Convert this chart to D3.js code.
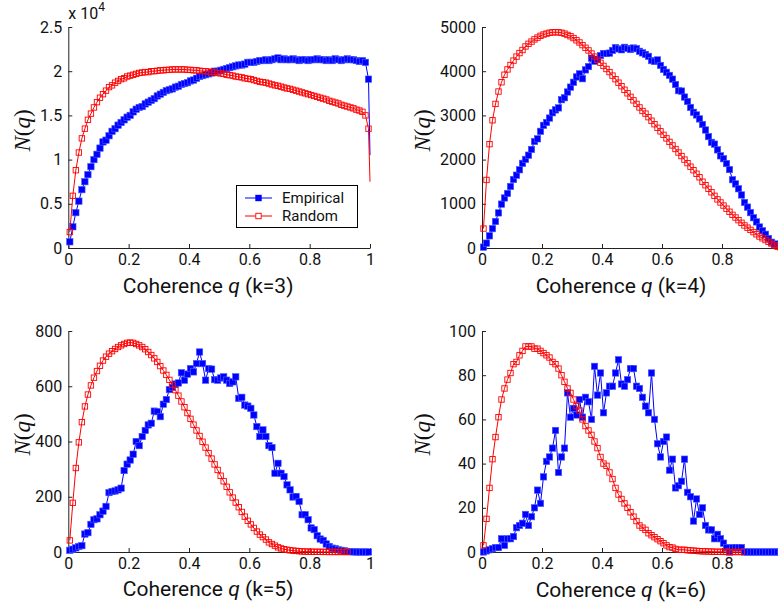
<!DOCTYPE html>
<html><head><meta charset="utf-8">
<script src="https://cdn.jsdelivr.net/npm/d3@7"></script>
<style>body{margin:0;background:#fff} svg{display:block}</style>
</head><body>
<svg id="c" width="778" height="607"></svg>
<script>
// bin centres of coherence q (100 bins of width 0.01)
const binCenters = d3.range(100).map(i => (i + 0.5) / 100);

// k = 3  (values in units of 10^4)
const k3Empirical = [
 0.07,0.24,0.40,0.53,0.66,0.75,0.83,0.92,1.00,1.06,
 1.13,1.20,1.22,1.27,1.32,1.35,1.39,1.42,1.45,1.48,
 1.50,1.54,1.57,1.59,1.60,1.63,1.65,1.67,1.69,1.72,
 1.74,1.76,1.78,1.79,1.80,1.82,1.83,1.85,1.86,1.87,
 1.89,1.90,1.92,1.94,1.95,1.96,1.97,1.98,2.00,2.00,
 2.01,2.02,2.03,2.04,2.05,2.06,2.07,2.07,2.08,2.10,
 2.10,2.10,2.11,2.12,2.12,2.13,2.12,2.13,2.14,2.15,
 2.13,2.14,2.13,2.13,2.14,2.13,2.12,2.13,2.13,2.12,
 2.13,2.13,2.14,2.13,2.13,2.12,2.13,2.12,2.14,2.13,
 2.12,2.13,2.14,2.13,2.13,2.12,2.11,2.12,2.10,1.91];
const k3EmpiricalAtOne = 1.05;
const k3Random = [
 0.18,0.59,0.88,1.08,1.24,1.35,1.45,1.52,1.59,1.65,
 1.70,1.74,1.78,1.82,1.84,1.87,1.89,1.91,1.92,1.94,
 1.95,1.96,1.97,1.98,1.985,1.99,1.99,2.00,2.00,2.005,
 2.01,2.01,2.015,2.015,2.02,2.02,2.02,2.02,2.02,2.015,
 2.015,2.01,2.01,2.005,2.00,2.00,1.995,1.99,1.985,1.98,
 1.975,1.97,1.96,1.955,1.95,1.94,1.935,1.93,1.92,1.915,
 1.91,1.90,1.89,1.88,1.875,1.87,1.86,1.85,1.84,1.835,
 1.825,1.815,1.805,1.80,1.79,1.78,1.77,1.76,1.75,1.74,
 1.73,1.72,1.71,1.70,1.69,1.68,1.665,1.655,1.645,1.635,
 1.62,1.61,1.60,1.59,1.58,1.565,1.555,1.54,1.50,1.35];
const k3RandomAtOne = 0.75;

// k = 4
const k4Empirical = [
 20,110,275,438,600,794,993,1132,1234,1392,
 1550,1648,1770,1915,2005,2100,2230,2410,2470,2640,
 2775,2840,2940,3060,3125,3170,3355,3400,3530,3640,
 3750,3870,3940,3830,4030,4105,4295,4225,4270,4355,
 4400,4400,4410,4470,4535,4505,4485,4540,4515,4490,
 4525,4510,4450,4415,4380,4335,4240,4220,4255,4130,
 4040,3975,3905,3820,3700,3560,3550,3415,3315,3180,
 3070,3010,2920,2795,2670,2520,2390,2350,2220,2085,
 2020,1910,1775,1545,1450,1340,1200,1030,925,800,
 685,590,475,390,310,215,130,80,90,60];
const k4Random = [
 440,1540,2350,2890,3260,3540,3750,3920,4040,4140,
 4240,4330,4410,4480,4560,4620,4670,4720,4760,4800,
 4830,4850,4870,4880,4880,4880,4870,4850,4820,4790,
 4750,4700,4650,4590,4530,4470,4400,4330,4260,4190,
 4120,4050,3980,3900,3820,3740,3660,3580,3500,3420,
 3340,3260,3180,3100,3040,2960,2880,2800,2720,2640,
 2560,2480,2400,2320,2240,2160,2080,2000,1920,1840,
 1760,1680,1600,1500,1420,1340,1260,1180,1100,1030,
 960,890,820,750,690,630,570,510,460,410,
 360,310,260,220,180,140,100,60,30,10];

// k = 5
const k5Empirical = [
 6,10,15,20,23,65,70,100,117,120,
 135,148,165,215,219,221,225,231,295,318,
 333,354,400,385,418,440,460,466,510,508,
 490,535,552,588,596,608,612,649,622,644,
 664,652,682,724,682,622,664,662,624,622,
 630,634,622,610,616,634,556,560,532,528,
 520,496,454,418,442,418,385,378,285,321,
 285,273,243,225,199,201,183,135,135,117,
 87,81,59,47,42,29,20,14,12,8,
 6,4,2,1,0.5,0,0,0,0,0];
const k5Random = [
 42,178,304,397,470,527,570,603,631,655,
 674,693,707,718,727,735,742,748,753,757,
 758,757,753,748,742,734,724,713,701,688,
 673,657,641,623,605,586,566,545,524,503,
 482,461,440,420,399,378,358,338,317,297,
 276,256,236,216,197,179,162,145,128,113,
 100,87,74,63,54,45,35,29,23,17,
 13,10,8,6,5,4,3,2,1.5,1.2,
 1,0.8,0.6,0.5,0.4,0.3,0.2,0.2,0.1,0.1,
 0.1,0,0];

// k = 6
const k6Empirical = [
 0,0.5,1,1.5,2,2,6,3,6,6,
 7,11,12,13,17,12,16,20,28,22,
 34,41,43,47,55,36,43,47,72,61,
 65,62,69,61,70,68,60,84,71,81,
 63,72,75,75,81,87,76,75,78,83,
 83,75,74,70,66,63,81,60,49,43,
 50,52,37,42,29,30,32,42,27,25,
 14,24,17,20,12,10,10,6,8,6,
 4,2,0,2,2,2,2,0,0,0,
 0,0,0,0,0,0,0,0,0,0];
const k6Random = [
 3,15,29,42,52,61,69,74,78,81,
 85,86,89,91,93,93,93,92,92,91,
 90,89,88,86,85,83,80,77,74,72,
 69,66,64,60,57,55,53,50,47,43,
 40,39,36,33,29,26,24,22,20,18,
 16,14,12,11,10,8.5,7.6,6.7,5.8,4.9,
 4,3,2.2,2,1.4,1,1,1,0.8,0.7,
 0.6,0.5,0.4,0.3,0.3,0.2,0.2,0.1,0.1,0.1,
 0.1,0,0,0,0,0,0];

const xTickFull = [0, 0.2, 0.4, 0.6, 0.8, 1];
const xTickCropped = [0, 0.2, 0.4, 0.6, 0.8];
const seriesNames = ["Empirical", "Random"];

const panels = [
  {k:3, emp:k3Empirical, rnd:k3Random, empEnd:k3EmpiricalAtOne, rndEnd:k3RandomAtOne,
   yMax:2.5, yTicks:[0,0.5,1,1.5,2,2.5], xTicks:xTickFull, x0:68.3, x1:370, yb:248, yt:27,
   ylabDx:-46, xlabY:293, legend:true, exponent:true},
  {k:4, emp:k4Empirical, rnd:k4Random, yMax:5000, yTicks:[0,1000,2000,3000,4000,5000],
   xTicks:xTickCropped, x0:482, x1:782, yb:248, yt:27, ylabDx:-60, xlabY:293},
  {k:5, emp:k5Empirical, rnd:k5Random, yMax:800, yTicks:[0,200,400,600,800],
   xTicks:xTickFull, x0:68.3, x1:370, yb:552, yt:331, ylabDx:-46, xlabY:596},
  {k:6, emp:k6Empirical, rnd:k6Random, yMax:100, yTicks:[0,20,40,60,80,100],
   xTicks:xTickCropped, x0:482, x1:782, yb:552, yt:331, ylabDx:-60, xlabY:597}
];

const svg = d3.select("#c");
const SANS = "Roboto, 'Liberation Sans', sans-serif";
const BLUE = "#0000ff", RED = "#ff0000";

panels.forEach(p => {
  const x = d3.scaleLinear().domain([0, 1]).range([p.x0, p.x1]);
  const y = d3.scaleLinear().domain([0, p.yMax]).range([p.yb, p.yt]);
  const g = svg.append("g");

  // axes (ticks pointing inward, no box)
  const ax = g.append("g").attr("transform", `translate(0,${p.yb})`)
    .call(d3.axisBottom(x).tickValues(p.xTicks).tickSize(-4).tickSizeOuter(0)
      .tickPadding(6).tickFormat(d => String(d)));
  const ay = g.append("g").attr("transform", `translate(${p.x0},0)`)
    .call(d3.axisLeft(y).tickValues(p.yTicks).tickSize(-4).tickSizeOuter(0)
      .tickPadding(6).tickFormat(d => String(d)));
  [ax, ay].forEach(a => {
    a.selectAll("path,line").attr("stroke", "#222").attr("stroke-width", 1);
    a.selectAll("text").attr("font-family", SANS).attr("font-size", 16).attr("fill", "#111");
  });

  const pts = (vals, end) => {
    const arr = vals.map((v, i) => [binCenters[i], v]);
    if (end !== undefined) arr.push([1, end]);
    return arr;
  };
  const line = d3.line().x(d => x(d[0])).y(d => y(d[1]));

  // Empirical: filled blue squares
  g.append("path").attr("d", line(pts(p.emp, p.empEnd))).attr("fill", "none")
    .attr("stroke", BLUE).attr("stroke-width", 1);
  g.selectAll(".em").data(p.emp.map((v, i) => [binCenters[i], v])).join("rect")
    .attr("x", d => x(d[0]) - 3.2).attr("y", d => y(d[1]) - 3.2)
    .attr("width", 6.4).attr("height", 6.4)
    .attr("fill", BLUE).attr("stroke", "#4a5cff").attr("stroke-width", 0.6);

  // Random: open red squares
  g.append("path").attr("d", line(pts(p.rnd, p.rndEnd))).attr("fill", "none")
    .attr("stroke", RED).attr("stroke-width", 1);
  g.selectAll(".rn").data(p.rnd.map((v, i) => [binCenters[i], v])).join("rect")
    .attr("x", d => x(d[0]) - 2.7).attr("y", d => y(d[1]) - 2.7)
    .attr("width", 5.4).attr("height", 5.4)
    .attr("fill", "none").attr("stroke", RED).attr("stroke-width", 0.9);

  // labels
  const xl = g.append("text").attr("x", x(0.5) - 11).attr("y", p.xlabY)
    .attr("text-anchor", "middle").attr("font-family", SANS).attr("font-size", 21).attr("fill", "#111");
  xl.append("tspan").text("Coherence ");
  xl.append("tspan").attr("font-style", "italic").text("q");
  xl.append("tspan").text(` (k=${p.k})`);

  const cy = (p.yb + p.yt) / 2 - 7;
  const yl = g.append("text").attr("transform", `translate(${p.x0 + p.ylabDx},${cy}) rotate(-90)`)
    .attr("text-anchor", "middle").attr("dy", "0.35em")
    .attr("font-family", "'Liberation Serif', 'Times New Roman', serif").attr("font-size", 23).attr("fill", "#111");
  yl.append("tspan").attr("font-style", "italic").text("N");
  yl.append("tspan").text("(");
  yl.append("tspan").attr("font-style", "italic").text("q");
  yl.append("tspan").text(")");

  if (p.exponent) {
    const t = g.append("text").attr("x", p.x0).attr("y", 19)
      .attr("font-family", SANS).attr("font-size", 16).attr("fill", "#111");
    t.append("tspan").text("x 10");
    t.append("tspan").attr("font-size", 12).attr("dy", -8).text("4");
  }

  if (p.legend) {
    const L = g.append("g");
    L.append("rect").attr("x", 236.5).attr("y", 185.5).attr("width", 121).attr("height", 42)
      .attr("fill", "#fff").attr("stroke", "#000").attr("stroke-width", 1);
    seriesNames.forEach((name, i) => {
      const yy = 198 + i * 18;
      const col = i === 0 ? BLUE : RED;
      L.append("line").attr("x1", 245).attr("x2", 272).attr("y1", yy).attr("y2", yy)
        .attr("stroke", col).attr("stroke-width", 1);
      if (i === 0) {
        L.append("rect").attr("x", 258.5 - 3.2).attr("y", yy - 3.2).attr("width", 6.4).attr("height", 6.4)
          .attr("fill", BLUE);
      } else {
        L.append("rect").attr("x", 258.5 - 2.7).attr("y", yy - 2.7).attr("width", 5.4).attr("height", 5.4)
          .attr("fill", "#fff").attr("stroke", RED).attr("stroke-width", 0.9);
      }
      L.append("text").attr("x", 282).attr("y", yy).attr("dy", "0.35em")
        .attr("font-family", SANS).attr("font-size", 15).attr("fill", "#111").text(name);
    });
  }
});
</script>
</body></html>
